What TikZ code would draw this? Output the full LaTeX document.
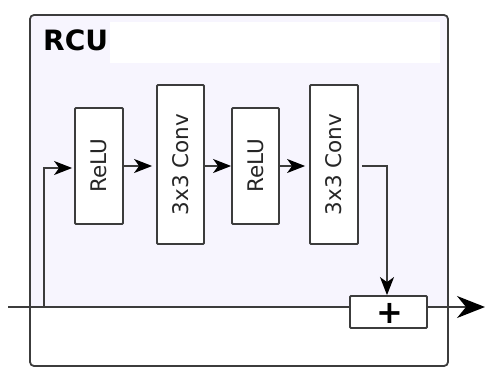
\documentclass[tikz,border=0pt]{standalone}
\usepackage{fontspec}
\setmainfont{DejaVu Sans}
\usetikzlibrary{arrows.meta,calc}
\definecolor{lav}{HTML}{F7F5FE}
\definecolor{edge}{HTML}{3C3C3C}
\tikzset{
  blk/.style={draw=edge, line width=1.8pt, fill=white, rounded corners=1pt, inner sep=0pt},
  conn/.style={draw=edge, line width=1.4pt, -{Stealth[length=18pt,width=14pt,inset=5pt,color=black,fill=black]}},
  bigarrow/.style={draw=edge, line width=1.4pt, -{Stealth[length=28pt,width=22pt,inset=9pt,color=black,fill=black]}},
  lbl/.style={font=\fontsize{21.5}{21.5}\selectfont, rotate=90, text=black!85}
}
\begin{document}
\begin{tikzpicture}[x=1pt,y=-1pt]
\useasboundingbox (0,0) rectangle (485,369);
% backgrounds
\fill[lav, rounded corners=4pt] (30,15) rectangle (448,307);
\fill[white] (110,22) rectangle (440,63);
\draw[edge, line width=1.8pt, rounded corners=4pt] (30,15) rectangle (448,366);
\node[anchor=north west, inner sep=0pt, font=\bfseries\fontsize{28}{28}\selectfont] (title) at (43,30) {RCU};
% blocks
\node[blk, minimum width=48pt, minimum height=116pt] (relu1) at (99,166) {};
\node[lbl] at (relu1) {ReLU};
\node[blk, minimum width=47pt, minimum height=159pt] (conv1) at (180.5,164.5) {};
\node[lbl] at (conv1) {3x3 Conv};
\node[blk, minimum width=47pt, minimum height=116pt] (relu2) at (255.5,166) {};
\node[lbl] at (relu2) {ReLU};
\node[blk, minimum width=48pt, minimum height=159pt] (conv2) at (334,164.5) {};
\node[lbl] at (conv2) {3x3 Conv};
\node[blk, minimum width=77pt, minimum height=32pt] (plus) at (388.5,312) {};
\node[font=\bfseries\fontsize{32}{32}\selectfont, inner sep=0pt] at (390,313) {+};
% coordinates
\coordinate (in) at (8,307);
\coordinate (out) at (485,307);
\coordinate (split) at (44,306);
\coordinate (c2out) at (387,166);
% connectors
\draw[draw=edge, line width=1.4pt] (in) -- (in -| plus.west);
\draw[bigarrow] (plus.east |- out) -- (out);
\draw[conn, shorten >=2pt] (split) |- (relu1.west |- 0,168);
\draw[conn, shorten >=4pt] (relu1.east |- 0,166) -- (conv1.west |- 0,166);
\draw[conn] (conv1.east |- 0,166) -- (relu2.west |- 0,166);
\draw[conn, shorten >=4pt] (relu2.east |- 0,166) -- (conv2.west |- 0,166);
\draw[conn, shorten <=3pt] (conv2.east |- c2out) -- (c2out) -- (plus.north -| c2out);
\end{tikzpicture}
\end{document}
